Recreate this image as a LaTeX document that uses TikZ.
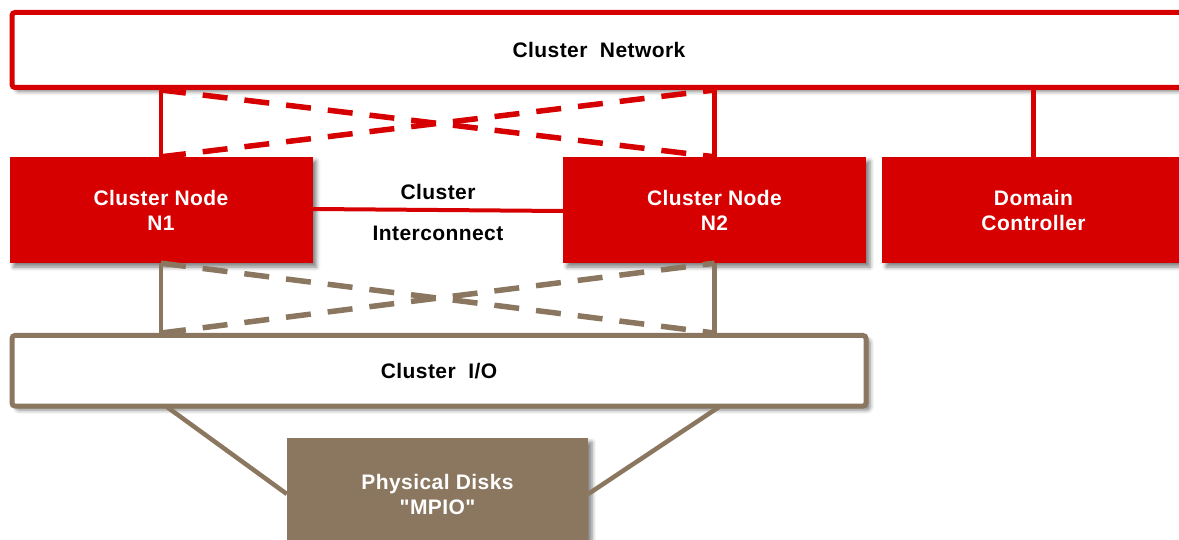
\documentclass[tikz,border=0pt]{standalone}
\usepackage{fontspec}
\setmainfont{Liberation Sans}[LetterSpace=2]
% family without TeX ligature mapping, for straight double quotes
\newfontfamily\plainquotes{Liberation Sans}[LetterSpace=2]
\usetikzlibrary{shadows.blur,calc}
\definecolor{netred}{RGB}{214,0,0}
\definecolor{iobrown}{RGB}{139,119,96}
\begin{document}
\begin{tikzpicture}[x=1pt,y=-1pt,
  shade/.style={blur shadow={shadow xshift=4pt,shadow yshift=-4pt,shadow blur radius=4pt,shadow opacity=50}},
  label/.style={font=\fontsize{21}{25}\selectfont\bfseries,align=center},
  busbox/.style={draw,line width=5pt,rounded corners=3pt,fill=white,shade,inner sep=0pt,label},
  redbox/.style={fill=netred,text=white,inner sep=0pt,shade,minimum width=303pt,minimum height=106pt,label},
  redline/.style={netred,line width=4.5pt},
  brownline/.style={iobrown,line width=4.5pt},
  dashline/.style={line width=5.5pt,dash pattern=on 25pt off 17pt}]
\useasboundingbox (0,0) rectangle (1179,540);
\clip (0,0) rectangle (1179,540);

% upper bus
\node[busbox,draw=netred,minimum width=1174pt,minimum height=75pt] (net) at (599,50) {Cluster\ \ Network};

% servers
\node[redbox] (n1) at (161,210) {Cluster Node\\N1};
\node[redbox] (n2) at (714.5,210) {Cluster Node\\N2};
\node[redbox] (dc) at (1033.5,210) {Domain\\Controller};

% storage bus and disks
\node[busbox,draw=iobrown,minimum width=854pt,minimum height=70.5pt] (io) at (439,370.75) {Cluster\ \ I/O};
\node[fill=iobrown,text=white,inner sep=0pt,shade,minimum width=301pt,minimum height=112pt,label] (disk) at (437.5,494) {Physical Disks\\{\plainquotes"MPIO"}};

% network links
\draw[redline] (n1.north) -- (n1.north |- net.south);
\draw[redline] (n2.north) -- (n2.north |- net.south);
\draw[redline] (dc.north) -- (dc.north |- net.south);
\draw[redline,dashline] (n1.north |- net.south) -- (n2.north);
\draw[redline,dashline] (n1.north) -- (n2.north |- net.south);

% interconnect
\draw[netred,line width=4pt] ([yshift=1pt]n1.east) -- ([yshift=-1pt]n2.west);
\node[label] (icTop) at (438,192) {Cluster};
\node[label] (icBot) at (438,233) {Interconnect};

% storage links
\draw[brownline] (n1.south) -- (n1.south |- io.north);
\draw[brownline] (n2.south) -- (n2.south |- io.north);
\draw[brownline,dashline] (n1.south) -- (n2.south |- io.north);
\draw[brownline,dashline] (n1.south |- io.north) -- (n2.south);

\coordinate (ioL) at (167,407);
\coordinate (ioR) at (719,407);
\draw[brownline] (ioL) -- (disk.west);
\draw[brownline] (ioR) -- (disk.east);
\end{tikzpicture}
\end{document}
